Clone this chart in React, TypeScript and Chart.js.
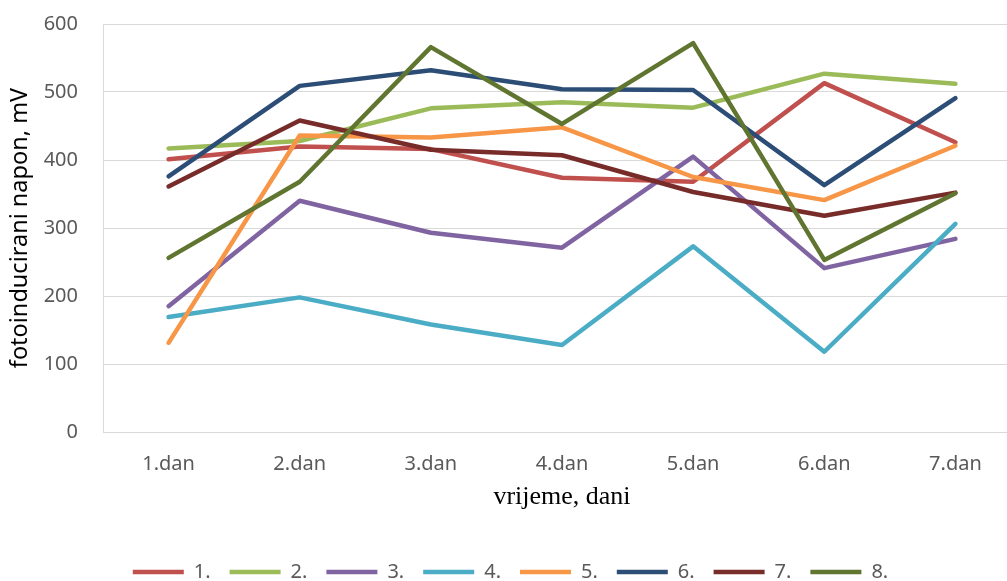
import React, { useEffect, useRef } from 'react';
import { Chart, registerables } from 'chart.js';

Chart.register(...registerables);

const categories = ['1.dan', '2.dan', '3.dan', '4.dan', '5.dan', '6.dan', '7.dan'];
const seriesLabels = ['1.', '2.', '3.', '4.', '5.', '6.', '7.', '8.'];

const s1 = [401, 420, 416, 374, 368, 513, 426];
const s2 = [417, 428, 476, 485, 477, 527, 512];
const s3 = [185, 340, 293, 271, 405, 241, 284];
const s4 = [169, 198, 158, 128, 273, 118, 306];
const s5 = [131, 436, 433, 448, 375, 341, 421];
const s6 = [376, 509, 532, 504, 503, 363, 491];
const s7 = [361, 458, 415, 407, 353, 318, 352];
const s8 = [256, 368, 566, 453, 572, 253, 351];

const yTickValues = [0, 100, 200, 300, 400, 500, 600];

const seriesColors = ['#C0504D', '#9BBB59', '#8064A2', '#4BACC6', '#F79646', '#2C4D75', '#772C2A', '#5F7530'];

export default function App() {
  const ref = useRef<HTMLCanvasElement | null>(null);

  useEffect(() => {
    document.documentElement.style.overflow = 'hidden';
    document.body.style.overflow = 'hidden';
    const canvas = ref.current;
    if (!canvas) return;
    const allSeries = [s1, s2, s3, s4, s5, s6, s7, s8];
    const chart = new Chart(canvas, {
      type: 'line',
      data: {
        labels: categories,
        datasets: allSeries.map((d, i) => ({
          label: seriesLabels[i],
          data: d,
          borderColor: seriesColors[i],
          backgroundColor: seriesColors[i],
          borderWidth: 4.5,
          borderCapStyle: 'round',
          borderJoinStyle: 'round',
          pointRadius: 0,
          pointHoverRadius: 0,
          tension: 0,
          fill: false,
          order: allSeries.length - i,
        })),
      },
      options: {
        responsive: false,
        animation: false,
        devicePixelRatio: 1,
        layout: { padding: { top: 24, left: 0, right: 0, bottom: 0 } },
        plugins: {
          tooltip: { enabled: false },
          legend: {
            position: 'bottom',
            labels: {
              usePointStyle: true,
              pointStyle: 'line',
              pointStyleWidth: 51,
              padding: 19,
              color: '#595959',
              font: { family: '"Noto Sans"', size: 20 },
              sort: (a: any, b: any) => a.datasetIndex - b.datasetIndex,
            },
          },
        },
        scales: {
          x: {
            offset: true,
            grid: { display: false, drawTicks: false, offset: true },
            border: { display: true, color: '#d9d9d9', width: 1 },
            ticks: {
              color: '#595959',
              font: { family: '"Noto Sans"', size: 20 },
              padding: 20,
              maxRotation: 0,
            },
            title: {
              display: true,
              text: 'vrijeme, dani',
              color: '#000000',
              font: { family: '"Liberation Serif"', size: 26 },
              padding: { top: 0, bottom: 30 },
            },
            afterFit: (scale: any) => {
              scale.height = 111;
            },
          },
          y: {
            min: 0,
            max: 600,
            afterBuildTicks: (scale: any) => {
              scale.ticks = yTickValues.map((v) => ({ value: v }));
            },
            grid: { color: '#d9d9d9', lineWidth: 1, drawTicks: false },
            border: { display: true, color: '#d9d9d9', width: 1 },
            ticks: {
              color: '#595959',
              font: { family: '"Noto Sans"', size: 20 },
              padding: 25,
            },
            title: {
              display: true,
              text: 'fotoinducirani napon, mV',
              color: '#000000',
              font: { family: '"Noto Sans"', size: 23.5 },
              padding: { top: 6, bottom: 4 },
            },
            afterFit: (scale: any) => {
              scale.width = 103;
              scale.paddingTop = 12;
              scale.paddingBottom = 12;
            },
          },
        },
      },
    });
    return () => chart.destroy();
  }, []);

  return (
    <div style={{ position: 'absolute', left: 0, top: 0, width: 1021, height: 592, background: '#ffffff' }}>
      <canvas ref={ref} width={1021} height={592} style={{ display: 'block' }} />
    </div>
  );
}
